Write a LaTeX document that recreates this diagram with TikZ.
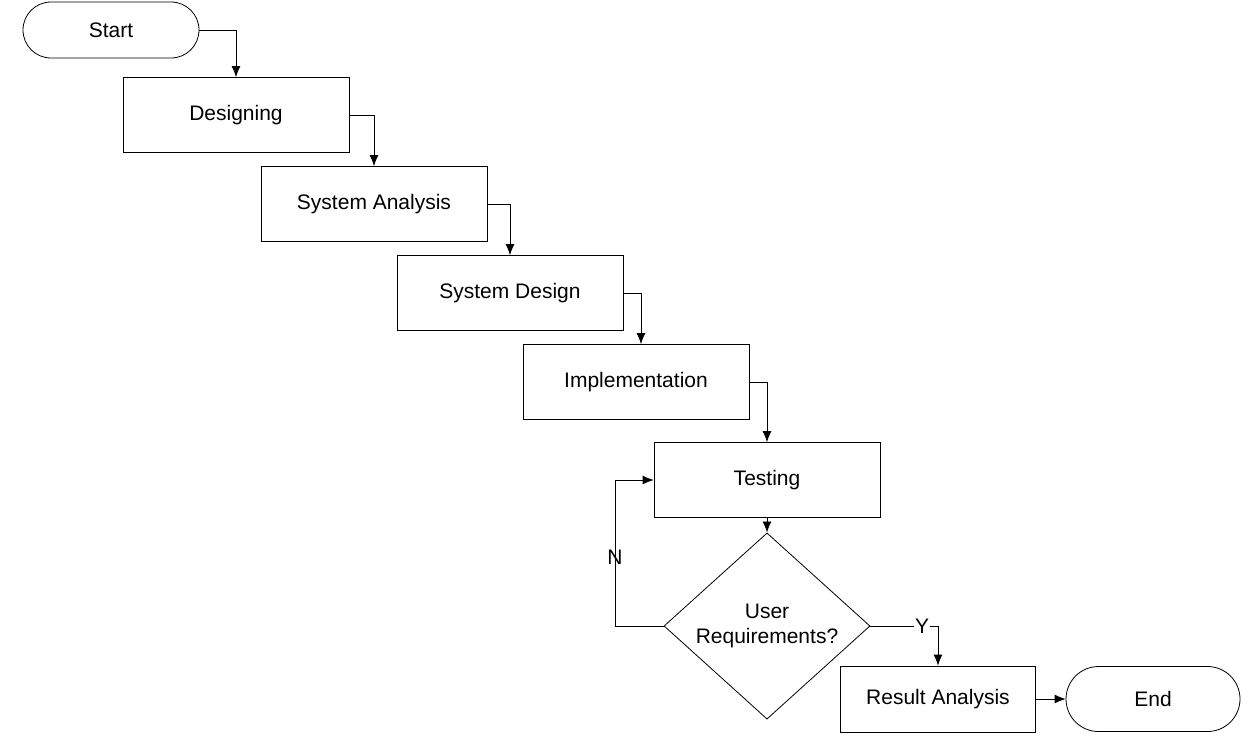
\documentclass[tikz,border=0pt]{standalone}
\usepackage{fontspec}
\setmainfont{Liberation Sans}
\usetikzlibrary{shapes.geometric,arrows.meta}
\begin{document}
\begin{tikzpicture}[x=1pt,y=-1pt,
  box/.style={draw,line width=0.8pt,minimum width=226pt,minimum height=75pt,inner sep=0pt},
  term/.style={draw,line width=0.8pt,rounded rectangle,minimum width=176pt,minimum height=56pt,inner sep=0pt},
  dec/.style={draw,line width=0.8pt,diamond,minimum width=206pt,minimum height=150pt,inner sep=0pt,align=center},
  conn/.style={line width=0.8pt,-{Latex[length=11pt,width=9pt]}},
  every node/.style={font=\fontsize{21}{25}\selectfont}]
\useasboundingbox (0,0) rectangle (1247,737);
\fill[white] (0,0) rectangle (1247,737);
\usetikzlibrary{shapes.misc}
\node[term] (start) at (111,30) {Start};
\node[box] (d1) at (236,115) {Designing};
\node[box] (d2) at (374,204) {System Analysis};
\node[box] (d3) at (510,293) {System Design};
\node[box] (d4) at (636,382) {Implementation};
\node[box] (d5) at (767,480) {Testing};
\node[dec] (q) at (767,626) {User\\Requirements?};
\node[box,minimum width=195pt,minimum height=66pt] (ra) at (938,699) {Result Analysis};
\node[term,minimum width=174pt,minimum height=65pt] (en) at (1153,699) {End};
\draw[conn] (start.east) -| (d1.north);
\draw[conn] (d1.east) -| (d2.north);
\draw[conn] (d2.east) -| (d3.north);
\draw[conn] (d3.east) -| ([xshift=5pt]d4.north);
\draw[conn] (d4.east) -| (d5.north);
\draw[conn] (d5.south) -- (q.north);
\coordinate (nl) at (615,626);
\draw[conn] (q.west) -- (nl) |- (d5.west);
\node (nlab) at (615,557) {N};
\draw[conn] (q.east) -| (ra.north);
\node[fill=white,inner sep=1pt] (ylab) at (922,626) {Y};
\draw[conn] (ra.east) -- (en.west);
\end{tikzpicture}
\end{document}
